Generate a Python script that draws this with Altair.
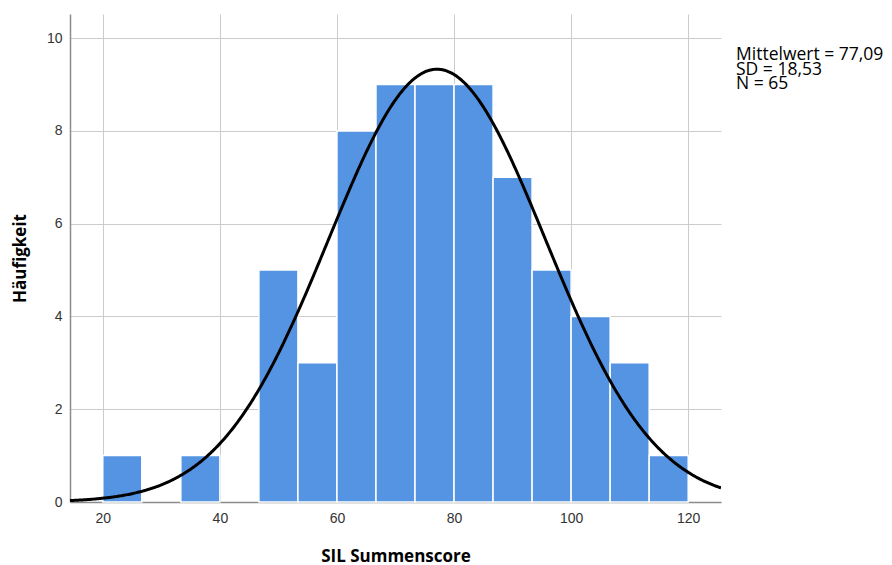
import altair as alt
import pandas as pd

# Histogram bins (SIL Summenscore), bin width 20/3
BIN_START = [20.0, 26.667, 33.333, 40.0, 46.667, 53.333, 60.0, 66.667, 73.333,
             80.0, 86.667, 93.333, 100.0, 106.667, 113.333]
BIN_END = [26.667, 33.333, 40.0, 46.667, 53.333, 60.0, 66.667, 73.333, 80.0,
           86.667, 93.333, 100.0, 106.667, 113.333, 120.0]
COUNTS = [1, 0, 1, 0, 5, 3, 8, 9, 9, 9, 7, 5, 4, 3, 1]

MEAN = 77.09
SD = 18.53
N = 65
BIN_WIDTH = 20 / 3

X_TICKS = [20, 40, 60, 80, 100, 120]
Y_TICKS = [0, 2, 4, 6, 8, 10]
X_DOMAIN = [14.4, 125.6]
Y_DOMAIN = [0, 10.52]

STATS_LINES = ["Mittelwert = 77,09", "SD = 18,53", "N = 65"]

bars_df = pd.DataFrame({"start": BIN_START, "end": BIN_END, "count": COUNTS})
bars_df = bars_df[bars_df["count"] > 0]

W, H = 651, 488

xscale = alt.Scale(domain=X_DOMAIN, nice=False, zero=False)
yscale = alt.Scale(domain=Y_DOMAIN, nice=False)

xaxis = alt.Axis(values=X_TICKS, title="SIL Summenscore", grid=True, gridColor="#cccccc",
                 ticks=False, domainColor="#8c8c8c", domainWidth=1.5,
                 labelFont="Liberation Sans", labelFontSize=14, labelColor="#333333",
                 labelPadding=9, titleFont="Open Sans", titleFontSize=17,
                 titleFontWeight="bold", titleColor="#000000",
                 titleX=W / 2, titleY=59, titleAlign="center", titleBaseline="alphabetic")
yaxis = alt.Axis(values=Y_TICKS, title="Häufigkeit", grid=True, gridColor="#cccccc",
                 ticks=False, domainColor="#8c8c8c", domainWidth=1.5,
                 labelFont="Liberation Sans", labelFontSize=14, labelColor="#333333",
                 labelPadding=8, titleFont="Open Sans", titleFontSize=17,
                 titleFontWeight="bold", titleColor="#000000",
                 titleX=-50, titleY=H / 2, titleAlign="center", titleBaseline="middle",
                 titleAngle=-90)

bars = alt.Chart(bars_df).mark_rect(color="#5594e2", stroke="white", strokeWidth=1.5).encode(
    x=alt.X("start:Q", scale=xscale, axis=xaxis),
    x2="end:Q",
    y=alt.Y("count:Q", scale=yscale, axis=yaxis),
    y2=alt.datum(0),
)

curve = alt.Chart(alt.sequence(X_DOMAIN[0], X_DOMAIN[1] + 0.01, 0.2, as_="x")).transform_calculate(
    y=f"{N * BIN_WIDTH} / ({SD} * sqrt(2 * PI)) * exp(-0.5 * pow((datum.x - {MEAN}) / {SD}, 2))"
).mark_line(color="black", strokeWidth=3, clip=True).encode(
    x=alt.X("x:Q", scale=xscale),
    y=alt.Y("y:Q", scale=yscale),
)

stats_df = pd.DataFrame({"t": STATS_LINES, "i": [0, 1, 2]})
stats = alt.Chart(stats_df).transform_calculate(
    py="46 + datum.i * 14.5"
).mark_text(align="left", baseline="alphabetic", font="Open Sans", fontSize=17.5,
            color="#000000").encode(
    x=alt.value(W + 15),
    y=alt.Y("py:Q", scale=None),
    text="t:N",
)

chart = alt.layer(bars, curve, stats).properties(
    width=W, height=H,
    autosize=alt.AutoSizeParams(type="none"),
    padding={"left": 70, "top": 14, "right": 171, "bottom": 63},
    background="white",
).configure_view(stroke=None)

chart.save("out.html", embed_options={"renderer": "svg", "actions": False})
